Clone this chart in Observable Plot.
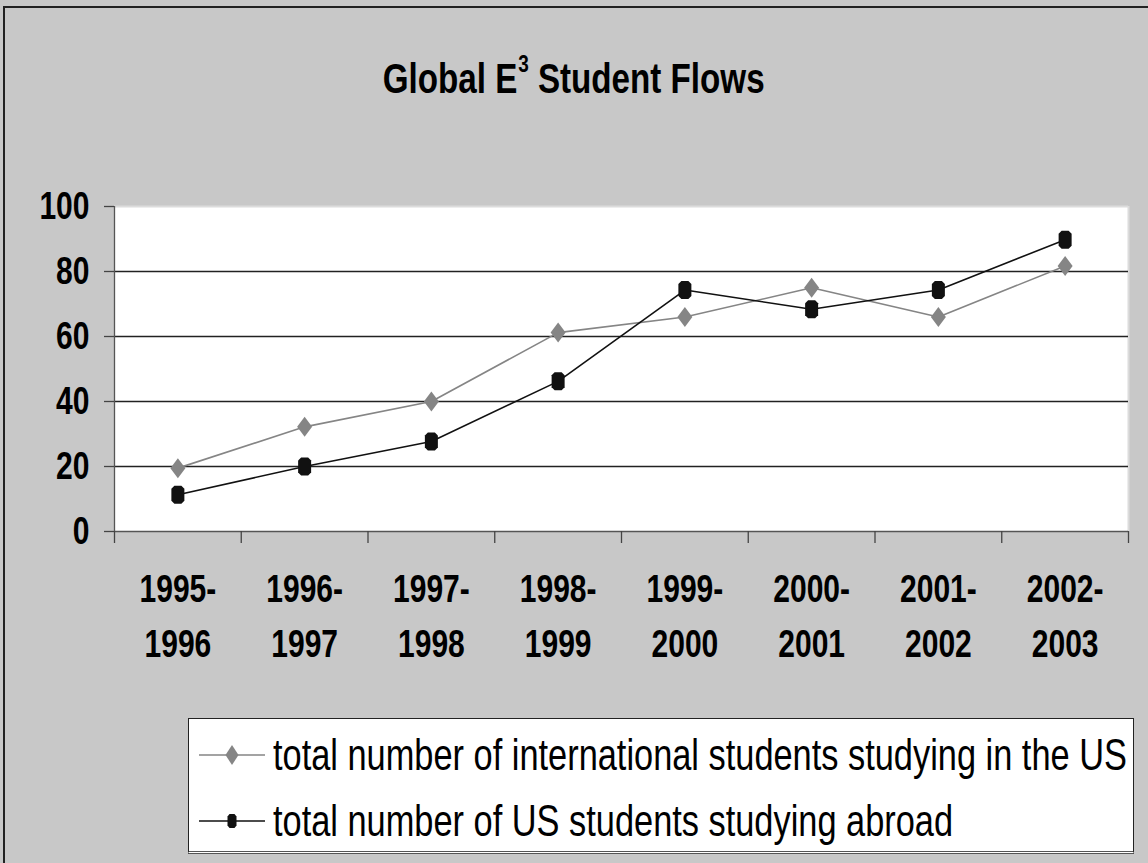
<!DOCTYPE html>
<html>
<head>
<meta charset="utf-8">
<script src="https://cdn.jsdelivr.net/npm/d3@7"></script>
<script src="https://cdn.jsdelivr.net/npm/@observablehq/plot@0.6"></script>
<style>
  html, body { margin: 0; padding: 0; overflow: hidden; background: #c8c8c8; }
  #chart { position: relative; width: 1148px; height: 863px; background: #c8c8c8; overflow: hidden;
           font-family: "Liberation Sans", Arial, sans-serif; }
  #frame { position: absolute; left: 3px; top: 6px; width: 1160px; height: 870px; border: 2px solid #222; box-sizing: border-box; }
  #title { position: absolute; left: 0; width: 1148px; top: 54px; text-align: center; color: #000; }
  #title .t { display: inline-block; font-weight: bold; font-size: 42px; line-height: 50px; white-space: nowrap;
              transform: scaleX(0.79); transform-origin: 50% 50%; }
  #title .sup { font-size: 24px; position: relative; top: -21px; margin-left: 1px; }
  #plot { position: absolute; left: 0; top: 0; }
  #legend { position: absolute; left: 188px; top: 718px; width: 946px; height: 136px; background: #fff;
            border: 1.5px solid #222; border-bottom: 3px double #555; box-sizing: border-box; }
  .item { position: absolute; left: 0; height: 44px; }
  .item svg { position: absolute; left: 10px; top: 2px; }
  .item span { position: absolute; left: 84px; top: 0; line-height: 44px; font-size: 43.5px; white-space: nowrap; color: #000;
               transform: scaleX(0.79); transform-origin: 0 50%; }
</style>
</head>
<body>
<div id="chart">
  <div id="frame"></div>
  <div id="plot"></div>
  <div id="title"><span class="t">Global E<span class="sup">3</span> Student Flows</span></div>
  <div id="legend"></div>
</div>
<script>
// ---- data ----
const years = ["1995-\n1996", "1996-\n1997", "1997-\n1998", "1998-\n1999", "1999-\n2000", "2000-\n2001", "2001-\n2002", "2002-\n2003"];
const intlStudentsInUS = [19.5, 32.2, 40, 61.2, 66, 75, 66, 81.7];
const usStudentsAbroad = [11.3, 20, 27.7, 46.2, 74.3, 68.4, 74.3, 89.8];
const seriesNames = ["total number of international students studying in the US", "total number of US students studying abroad"];
const yTicks = [0, 20, 40, 60, 80, 100];
const gridValues = [20, 40, 60, 80];

const colorIntl = "#858585";
const colorUS = "#111111";

const rows = [];
years.forEach((yr, i) => {
  rows.push({series: seriesNames[0], idx: i + 0.5, value: intlStudentsInUS[i]});
  rows.push({series: seriesNames[1], idx: i + 0.5, value: usStudentsAbroad[i]});
});
const intlRows = rows.filter(d => d.series === seriesNames[0]);
const usRows = rows.filter(d => d.series === seriesNames[1]);
const boundaries = d3.range(0, years.length + 1);

// custom symbols
const tallDiamond = {
  draw(ctx) {
    const w = 7.5, h = 10;
    ctx.moveTo(0, -h); ctx.lineTo(w, 0); ctx.lineTo(0, h); ctx.lineTo(-w, 0); ctx.closePath();
  }
};
const blob = {
  draw(ctx) {
    const w = 6.5, h = 9, c = 3;
    ctx.moveTo(-w + c, -h); ctx.lineTo(w - c, -h); ctx.lineTo(w, -h + c); ctx.lineTo(w, h - c);
    ctx.lineTo(w - c, h); ctx.lineTo(-w + c, h); ctx.lineTo(-w, h - c); ctx.lineTo(-w, -h + c); ctx.closePath();
  }
};

const fontFamily = '"Liberation Sans", Arial, sans-serif';
const narrow = 0.79;

const plot = Plot.plot({
  width: 1148,
  height: 863,
  marginLeft: 114,
  marginRight: 20,
  marginTop: 206,
  marginBottom: 332,
  style: {background: "transparent", fontFamily: fontFamily, color: "#000"},
  x: {domain: [0, years.length], axis: null},
  y: {domain: [0, 100], axis: null},
  marks: [
    Plot.frame({fill: "white", stroke: null}),
    Plot.ruleY([100], {stroke: "#dcdcdc", strokeWidth: 2}),
    Plot.ruleX([years.length], {stroke: "#dcdcdc", strokeWidth: 2}),
    Plot.ruleY(gridValues, {stroke: "#222", strokeWidth: 1.3}),
    Plot.ruleY([0], {stroke: "#555", strokeWidth: 1.3}),
    Plot.ruleX([0], {stroke: "#555", strokeWidth: 1.3}),
    Plot.axisY({ticks: yTicks, tickSize: 10, tickPadding: 15, fontSize: 38, fontWeight: "bold", stroke: "#444", strokeWidth: 1.3, label: null, fill: "#000"}),
    Plot.axisX({ticks: boundaries, tickSize: 12, stroke: "#444", strokeWidth: 1.3, label: null, fill: "none"}),
    Plot.text(years, {x: (d, i) => i + 0.5, y: () => 0, text: d => d, dy: 80, lineAnchor: "middle", lineHeight: 1.45,
      fontSize: 38, fontWeight: "bold", fill: "#000"}),
    Plot.line(intlRows, {x: "idx", y: "value", stroke: colorIntl, strokeWidth: 1.6}),
    Plot.line(usRows, {x: "idx", y: "value", stroke: colorUS, strokeWidth: 1.6}),
    Plot.dot(intlRows, {x: "idx", y: "value", symbol: tallDiamond, fill: colorIntl, stroke: null, r: 5}),
    Plot.dot(usRows, {x: "idx", y: "value", symbol: blob, fill: colorUS, stroke: null, r: 5})
  ]
});
// condense all text horizontally (the reference uses a narrow face)
plot.querySelectorAll("text").forEach(t => {
  const tr = t.getAttribute("transform");
  t.setAttribute("transform", (tr ? tr + " " : "") + `scale(${narrow},1)`);
});
document.getElementById("plot").appendChild(plot);

// ---- legend ----
const legend = document.getElementById("legend");
const legendItems = [
  {name: seriesNames[0], color: colorIntl, shape: "diamond", top: 14},
  {name: seriesNames[1], color: colorUS, shape: "blob", top: 80}
];
legendItems.forEach(it => {
  const div = document.createElement("div");
  div.className = "item";
  div.style.top = it.top + "px";
  const marker = it.shape === "diamond"
    ? `<path d="M33,10 L39.5,20 L33,30 L26.5,20 Z" fill="${it.color}"/>`
    : `<path d="M30.5,13 L35.5,13 L37.5,15.5 L37.5,24.5 L35.5,27 L30.5,27 L28.5,24.5 L28.5,15.5 Z" fill="${it.color}"/>`;
  div.innerHTML = `<svg width="70" height="40"><line x1="0" x2="66" y1="20" y2="20" stroke="${it.color}" stroke-width="1.6"/>${marker}</svg><span>${it.name}</span>`;
  legend.appendChild(div);
});
</script>
</body>
</html>
